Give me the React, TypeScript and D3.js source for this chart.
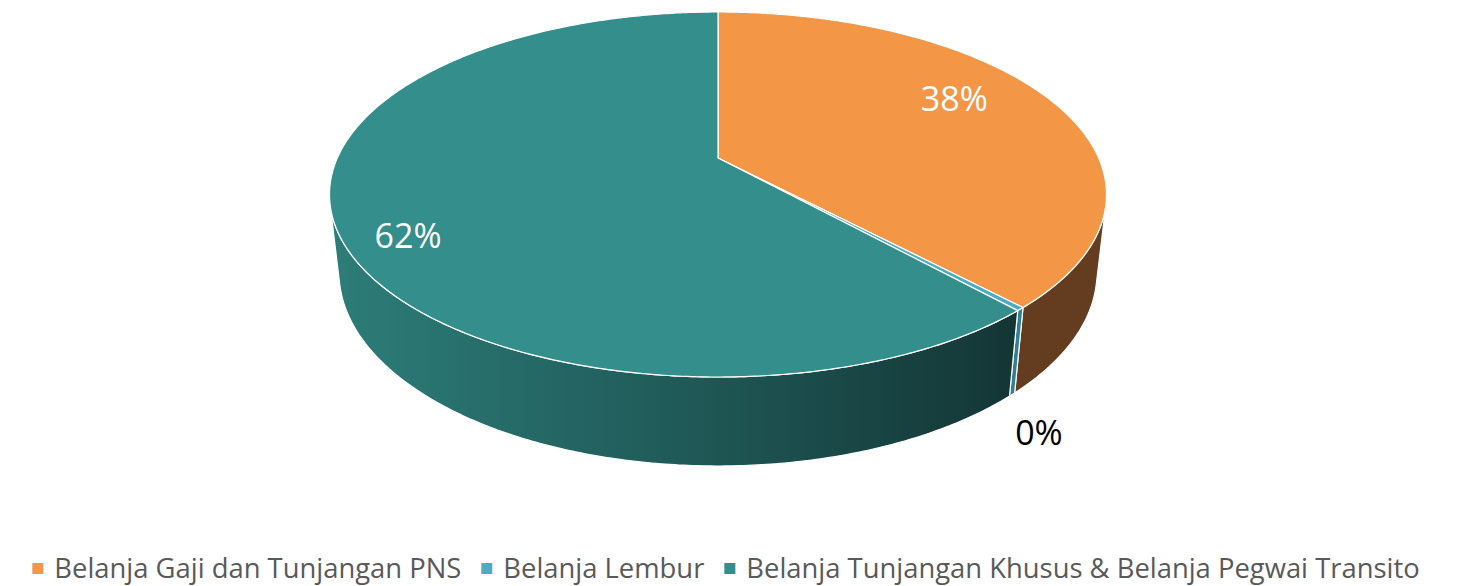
import React, { useEffect, useRef } from "react";
import * as d3 from "d3";

const categories = [
  "Belanja Gaji dan Tunjangan PNS",
  "Belanja Lembur",
  "Belanja Tunjangan Khusus & Belanja Pegwai Transito",
];
const values = [38.0, 0.3, 61.7];
const topColors = ["#F39646", "#4BACC6", "#348E8B"];
const sideColors = ["#643C1F", "#2F7F95", "url(#tealWall)"];
const labelColors = ["#FFFFFF", "#000000", "#FFFFFF"];

// camera / projection parameters
const F = 1689.6, DIST = 4.439, SA = 0.4603, CA = 0.8878, H = 0.2327;
const CX = 718, CY = 158;

function proj(theta: number, r: number, z: number): [number, number] {
  const u = r * Math.sin(theta);
  const v = -r * Math.cos(theta);
  const depth = DIST - v * CA - z * SA;
  return [CX + (F * u) / depth, CY + (F * (v * SA - z * CA)) / depth];
}

function arcPts(a0: number, a1: number, r: number, z: number) {
  const n = Math.max(2, Math.ceil(Math.abs(a1 - a0) / 0.01));
  const pts: [number, number][] = [];
  for (let i = 0; i <= n; i++) pts.push(proj(a0 + ((a1 - a0) * i) / n, r, z));
  return pts;
}

export default function App() {
  const legendRef = useRef<SVGGElement>(null);
  const total = d3.sum(values);
  const pie = d3.pie<number>().sort(null).startAngle(0).endAngle(2 * Math.PI)(values);
  const fmt = d3.format(".0%");
  const line = d3.line();

  const lim = Math.acos(-1 / (DIST * CA)); // visible wall from lim to 2pi-lim
  const visA = lim, visB = 2 * Math.PI - lim;

  useEffect(() => {
    document.body.style.margin = "0";
    const g = d3.select(legendRef.current);
    g.selectAll("*").remove();
    const items = g.selectAll("g.item").data(categories).join("g").attr("class", "item");
    items.append("rect").attr("width", 11).attr("height", 11).attr("y", -15)
      .attr("fill", (_d, i) => topColors[i]);
    const texts = items.append("text").text((d) => d).attr("x", 22)
      .attr("font-family", "Open Sans").attr("font-size", 27.4).attr("fill", "#595959")
      .attr("y", 0);
    const widths: number[] = [];
    texts.each(function () { widths.push((this as SVGTextElement).getComputedTextLength()); });
    const gap = 20;
    const totalW = d3.sum(widths.map((w) => 22 + w)) + gap * (widths.length - 1);
    let x = 726 - totalW / 2;
    items.attr("transform", (_d, i) => {
      const t = `translate(${x},0)`;
      x += 22 + widths[i] + gap;
      return t;
    });
  }, []);

  return (
    <svg width={1460} height={586} style={{ position: "absolute", left: 0, top: 0, display: "block" }}>
      <defs>
        <linearGradient id="tealWall" gradientUnits="userSpaceOnUse" x1={330} x2={1020} y1={0} y2={0}>
          <stop offset="0" stopColor="#2D7D79" />
          <stop offset="0.45" stopColor="#215E5C" />
          <stop offset="1" stopColor="#133534" />
        </linearGradient>
      </defs>
      {/* walls */}
      {pie.map((s, i) => {
        const a0 = Math.max(s.startAngle, visA);
        const a1 = Math.min(s.endAngle, visB);
        if (a1 <= a0) return null;
        const pts = [...arcPts(a0, a1, 1, 0), ...arcPts(a1, a0, 1, -H)];
        return (
          <path key={"w" + i} d={line(pts) + "Z"} fill={sideColors[i]} stroke="#FFFFFF"
            strokeWidth={1.2} strokeLinejoin="round" />
        );
      })}
      {/* top faces */}
      {pie.map((s, i) => {
        const pts = [proj(0, 0, 0), ...arcPts(s.startAngle, s.endAngle, 1, 0)];
        return (
          <path key={"t" + i} d={line(pts) + "Z"} fill={topColors[i]} stroke="#FFFFFF"
            strokeWidth={1.2} strokeLinejoin="round" />
        );
      })}
      {/* labels */}
      {pie.map((s, i) => {
        const mid = (s.startAngle + s.endAngle) / 2;
        const inside = s.value / total > 0.05;
        let p: [number, number];
        if (inside) {
          p = proj(mid - 0.125, i === 0 ? 0.76 : 0.85, 0);
        } else {
          p = proj(mid, 1.08, -H);
          p = [p[0] - 1, p[1] + 22];
        }
        return (
          <text key={"l" + i} x={p[0]} y={p[1]} textAnchor="middle" dominantBaseline="central"
            fontFamily="Open Sans" fontSize={34} fill={labelColors[i]}>
            {fmt(s.value / total)}
          </text>
        );
      })}
      <g ref={legendRef} transform="translate(0,578)" />
    </svg>
  );
}
